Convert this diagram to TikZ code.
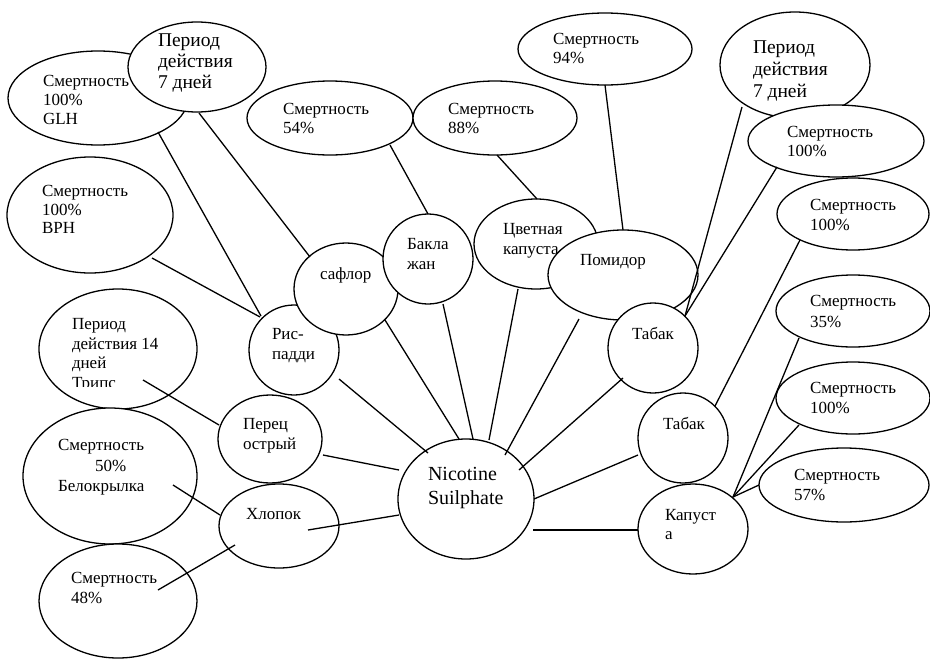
\documentclass[tikz,border=0pt]{standalone}
\usepackage{fontspec}
\setmainfont{Liberation Serif}
\usetikzlibrary{shapes.geometric,calc}
\tikzset{
  bub/.style={draw, ellipse, fill=white, line width=1.3pt, inner sep=0pt, outer sep=0pt},
  txt/.style={anchor=base west, inner sep=0pt, outer sep=0pt, font=\fontsize{17}{20}\selectfont},
  bigtxt/.style={txt, font=\fontsize{19.5}{22}\selectfont},
  nictxt/.style={txt, font=\fontsize{20}{24}\selectfont},
  con/.style={line width=1.3pt}
}
\begin{document}
\begin{tikzpicture}[x=1pt,y=-1pt]
\useasboundingbox (0,0) rectangle (930,659);
% left top
\node[bub, minimum width=180pt, minimum height=94pt] (glh) at (98,98) {};
\node[txt] (glh1) at (43,86) {Смертность};
\node[txt] (glh2) at (43,105) {100\%};
\node[txt] (glh3) at (43,124) {GLH};
\node[bub, minimum width=138pt, minimum height=90pt] (perl) at (197,67) {};
\node[bigtxt] (perl1) at (158,46) {Период};
\node[bigtxt] (perl2) at (158,67) {действия};
\node[bigtxt] (perl3) at (158,88) {7 дней};
\node[bub, minimum width=166pt, minimum height=116pt] (bph) at (90,215) {};
\node[txt] (bph1) at (42,196) {Смертность};
\node[txt] (bph2) at (42,215) {100\%};
\node[txt] (bph3) at (42,233) {BPH};
\node[bub, minimum width=158pt, minimum height=120pt] (per14) at (118,349) {};
\node[txt] (per141) at (72,329) {Период};
\node[txt] (per142) at (72,349) {действия 14};
\node[txt] (per143) at (72,368) {дней};
\begin{scope}
\clip (60,370) rectangle (160,386);
\node[txt] (per144) at (72,388) {Трипс};
\end{scope}
\node[bub, minimum width=174pt, minimum height=136pt] (bel) at (110,476) {};
\node[txt] (bel1) at (58,450) {Смертность};
\node[txt] (bel2) at (95,471) {50\%};
\node[txt] (bel3) at (58,491) {Белокрылка};
\node[bub, minimum width=158pt, minimum height=114pt] (m48) at (118,601) {};
\node[txt] (m481) at (71,583) {Смертность};
\node[txt] (m482) at (71,603) {48\%};
\node[bub, minimum width=104pt, minimum height=88pt] (perec) at (270,439) {};
\node[txt] (perec1) at (243,429) {Перец};
\node[txt] (perec2) at (243,449) {острый};
\node[bub, minimum width=120pt, minimum height=84pt] (hlop) at (279,526) {};
\node[txt] (hlop1) at (246,519) {Хлопок};
\node[bub, minimum width=90pt, minimum height=90pt] (ris) at (294,350) {};
\node[txt] (ris1) at (272,339) {Рис-};
\node[txt] (ris2) at (272,359) {падди};
\node[bub, minimum width=104pt, minimum height=92pt] (safl) at (346,289) {};
\node[txt] (safl1) at (320,279) {сафлор};
\node[bub, minimum width=90pt, minimum height=90pt] (bakla) at (428,259) {};
\node[txt] (bakla1) at (407,249) {Бакла};
\node[txt] (bakla2) at (407,269) {жан};
\node[bub, minimum width=166pt, minimum height=74pt] (m54) at (330,118) {};
\node[txt] (m541) at (283,114) {Смертность};
\node[txt] (m542) at (283,133) {54\%};
\node[bub, minimum width=164pt, minimum height=74pt] (m88) at (495,118) {};
\node[txt] (m881) at (448,114) {Смертность};
\node[txt] (m882) at (448,133) {88\%};
\node[bub, minimum width=124pt, minimum height=90pt] (cvet) at (536,244) {};
\node[txt] (cvet1) at (503,234) {Цветная};
\node[txt] (cvet2) at (503,254) {капуста};
\node[bub, minimum width=174pt, minimum height=72pt] (m94) at (605,49) {};
\node[txt] (m941) at (553,44) {Смертность};
\node[txt] (m942) at (553,63) {94\%};
\node[bub, minimum width=150pt, minimum height=90pt] (pom) at (623,275) {};
\node[txt] (pom1) at (580,265) {Помидор};
\node[bub, minimum width=90pt, minimum height=90pt] (tabu) at (653,348) {};
\node[txt] (tabu1) at (632,339) {Табак};
\node[bub, minimum width=150pt, minimum height=106pt] (perr) at (795,65) {};
\node[bigtxt] (perr1) at (753,53) {Период};
\node[bigtxt] (perr2) at (753,75) {действия};
\node[bigtxt] (perr3) at (753,97) {7 дней};
\node[bub, minimum width=176pt, minimum height=72pt] (r100a) at (836,141) {};
\node[txt] (r100a1) at (787,137) {Смертность};
\node[txt] (r100a2) at (787,156) {100\%};
\node[bub, minimum width=152pt, minimum height=72pt] (r100b) at (853,214) {};
\node[txt] (r100b1) at (810,210) {Смертность};
\node[txt] (r100b2) at (810,230) {100\%};
\node[bub, minimum width=154pt, minimum height=72pt] (r35) at (853,311) {};
\node[txt] (r351) at (810,306) {Смертность};
\node[txt] (r352) at (810,327) {35\%};
\node[bub, minimum width=154pt, minimum height=72pt] (r100c) at (853,398) {};
\node[txt] (r100c1) at (810,393) {Смертность};
\node[txt] (r100c2) at (810,413) {100\%};
\node[bub, minimum width=170pt, minimum height=74pt] (r57) at (844,485) {};
\node[txt] (r571) at (794,480) {Смертность};
\node[txt] (r572) at (794,500) {57\%};
\node[bub, minimum width=90pt, minimum height=90pt] (tabl) at (683,438) {};
\node[txt] (tabl1) at (663,429) {Табак};
\node[bub, minimum width=110pt, minimum height=90pt] (kap) at (693,529) {};
\node[txt] (kap1) at (665,520) {Капуст};
\node[txt] (kap2) at (665,539) {а};
\node[bub, minimum width=136pt, minimum height=120pt] (nic) at (466,499) {};
\node[nictxt] (nic1) at (428,480) {Nicotine};
\node[nictxt] (nic2) at (428,504) {Suilphate};
% connectors
\draw[con] ($(glh.center)+(60,34)$) -- ($(ris.center)+(-33,-34)$);
\draw[con] ($(perl.center)+(2,46)$) -- ($(safl.center)+(-36,-32)$);
\draw[con] ($(bph.center)+(62,43)$) -- ($(ris.center)+(-34,-33)$);
\draw[con] ($(m54.center)+(60,27)$) -- ($(bakla.center)+(0,-45)$);
\draw[con] ($(m88.center)+(2,37)$) -- ($(cvet.center)+(1,-45)$);
\draw[con] ($(m94.center)+(0,36)$) -- ($(pom.center)+(0,-45)$);
\draw[con] ($(perr.center)+(-53,42)$) -- ($(tabu.center)+(32,-32)$);
\draw[con] ($(r100a.center)+(-59,26)$) -- ($(tabu.center)+(32,-32)$);
\draw[con] ($(r100b.center)+(-53,26)$) -- ($(tabl.center)+(32,-32)$);
\draw[con] ($(r35.center)+(-54,27)$) -- ($(kap.center)+(40,-32)$);
\draw[con] ($(r100c.center)+(-54,27)$) -- ($(kap.center)+(40,-32)$);
\draw[con] ($(r57.center)+(-85,0)$) -- ($(kap.center)+(40,-32)$);
\draw[con] ($(nic.center)+(67,31)$) -- ($(kap.center)+(-55,1)$);
\draw[con] ($(nic.center)+(68,0)$) -- ($(tabl.center)+(-45,17)$);
\draw[con] ($(nic.center)+(53,-29)$) -- ($(tabu.center)+(-30,30)$);
\draw[con] ($(nic.center)+(39,-44)$) -- ($(pom.center)+(-44,44)$);
\draw[con] ($(nic.center)+(23,-59)$) -- ($(cvet.center)+(-18,45)$);
\draw[con] ($(nic.center)+(7,-60)$) -- ($(bakla.center)+(15,45)$);
\draw[con] ($(nic.center)+(-7,-60)$) -- ($(safl.center)+(39,31)$);
\draw[con] ($(nic.center)+(-38,-46)$) -- ($(ris.center)+(45,29)$);
\draw[con] ($(nic.center)+(-67,-29)$) -- ($(perec.center)+(53,16)$);
\draw[con] ($(nic.center)+(-67,16)$) -- ($(hlop.center)+(29,4)$);
\draw[con] ($(per14.center)+(25,31)$) -- ($(perec.center)+(-51,-14)$);
\draw[con] ($(bel.center)+(63,9)$) -- ($(hlop.center)+(-59,-11)$);
\draw[con] ($(m48.center)+(40,-11)$) -- ($(hlop.center)+(-44,19)$);
\end{tikzpicture}
\end{document}
